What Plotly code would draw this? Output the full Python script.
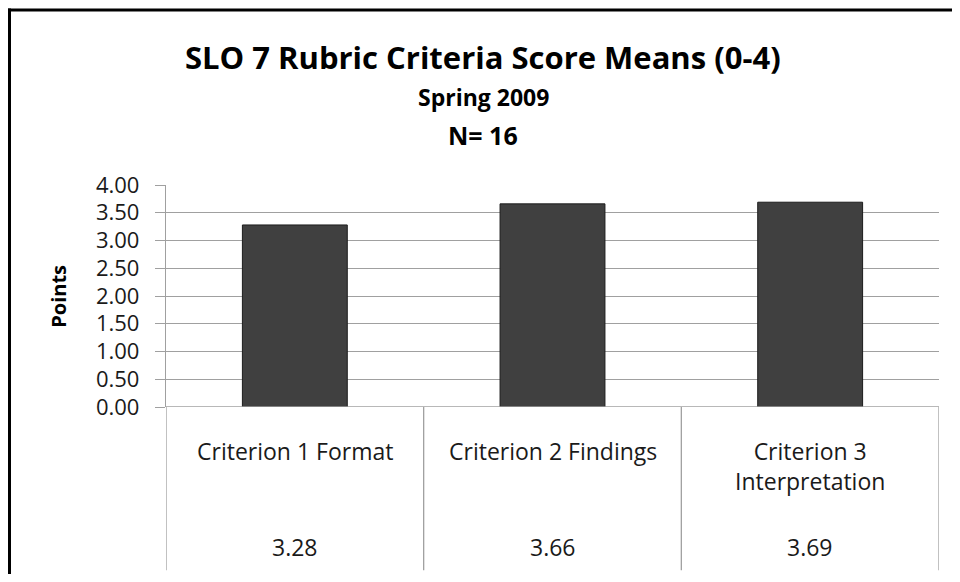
import plotly.graph_objects as go

# ---- data ----
categories = ["Criterion 1 Format", "Criterion 2 Findings", "Criterion 3<br>Interpretation"]
means = [3.28, 3.66, 3.69]
value_labels = ["3.28", "3.66", "3.69"]
title_lines = ["SLO 7 Rubric Criteria Score Means (0-4)", "Spring 2009", "N= 16"]
y_title = "Points"

# ---- geometry (page pixels; the page body adds an 8px margin on every side) ----
OFF = 8
W, H = 960 - 2 * OFF, 582 - 2 * OFF
PL, PR, PT, PB = 166, 939, 185, 407.5
pw, ph = PR - PL, PB - PT


def px_x(px):
    return (px - PL) / pw


def px_y(py):
    return (PB - py) / ph


FONT = "Open Sans"
GRID = "#a0a0a0"

x_idx = list(range(len(categories)))

fig = go.Figure()
fig.add_trace(go.Bar(
    x=x_idx, y=means, width=0.407,
    marker=dict(color="#404040", line=dict(color="#1c1c1c", width=1)),
    hoverinfo="skip",
))

shapes = []
# table: vertical lines at category boundaries
for b in [-0.5 + i for i in range(len(categories) + 1)]:
    shapes.append(dict(type="line", xref="x", yref="paper", x0=b, x1=b,
                       y0=0, y1=px_y(571), line=dict(color=GRID, width=1.3)))
# table top line (axis)
shapes.append(dict(type="line", xref="x", yref="y", x0=-0.5, x1=len(categories) - 0.5,
                   y0=0, y1=0, line=dict(color=GRID, width=1.3)))
# outer chart border (left & top)
shapes.append(dict(type="line", xref="paper", yref="paper", x0=px_x(9.5), x1=px_x(9.5),
                   y0=px_y(8), y1=px_y(590), line=dict(color="black", width=3)))
shapes.append(dict(type="line", xref="paper", yref="paper", x0=px_x(8), x1=px_x(970),
                   y0=px_y(9.5), y1=px_y(9.5), line=dict(color="black", width=3)))

annotations = []
# titles
title_specs = [(title_lines[0], 31, 57), (title_lines[1], 23, 97), (title_lines[2], 25, 135)]
for txt, sz, py in title_specs:
    annotations.append(dict(text=f"<b>{txt}</b>", xref="paper", yref="paper",
                            x=px_x(483), y=px_y(py), xanchor="center", yanchor="middle",
                            showarrow=False, font=dict(family=FONT, size=sz, color="black")))
# y axis title
annotations.append(dict(text=f"<b>{y_title}</b>", xref="paper", yref="paper",
                        x=px_x(59), y=px_y(296), textangle=-90, xanchor="center",
                        yanchor="middle", showarrow=False,
                        font=dict(family=FONT, size=20, color="black")))
# data table text
for i, (c, v) in enumerate(zip(categories, value_labels)):
    annotations.append(dict(text=c, xref="x", yref="paper", x=i, y=px_y(434),
                            xanchor="center", yanchor="top", showarrow=False,
                            font=dict(family=FONT, size=23, color="#1a1a1a")))
    annotations.append(dict(text=v, xref="x", yref="paper", x=i, y=px_y(548),
                            xanchor="center", yanchor="middle", showarrow=False,
                            font=dict(family=FONT, size=23, color="#1a1a1a")))

fig.update_layout(
    width=W, height=H,
    margin=dict(l=PL - OFF, r=W - (PR - OFF), t=PT - OFF, b=H - (PB - OFF), autoexpand=False),
    paper_bgcolor="white", plot_bgcolor="white",
    showlegend=False,
    shapes=shapes,
    annotations=annotations,
    xaxis=dict(range=[-0.5, len(categories) - 0.5], showticklabels=False, showgrid=False,
               zeroline=False, showline=False, ticks="", fixedrange=True),
    yaxis=dict(range=[0, 4], dtick=0.5, tick0=0, tickformat=".2f",
               showgrid=True, gridcolor=GRID, gridwidth=1.3,
               zeroline=False, showline=True, linecolor=GRID, linewidth=1.3,
               ticks="outside", ticklen=10, tickcolor=GRID, tickwidth=1.3,
               ticklabelstandoff=11,
               tickfont=dict(family=FONT, size=22, color="#1a1a1a"), fixedrange=True),
)

fig.write_html("out.html")
